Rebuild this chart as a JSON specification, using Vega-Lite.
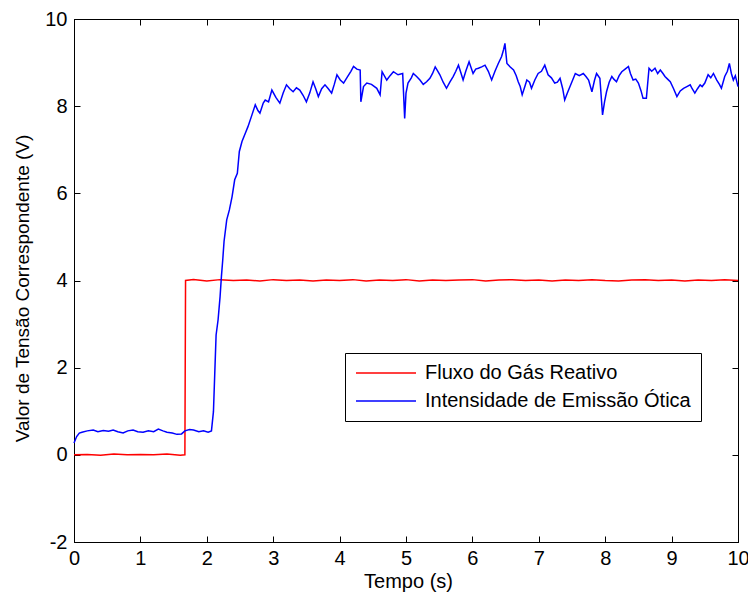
{
  "$schema": "https://vega.github.io/schema/vega-lite/v6.json",
  "width": 664,
  "height": 523,
  "autosize": {"type": "none"},
  "padding": {"left": 74, "top": 19, "right": 10, "bottom": 57},
  "background": "white",
  "config": {
    "font": "Liberation Sans",
    "view": {"stroke": "black", "strokeWidth": 1},
    "axis": {
      "grid": false,
      "domainColor": "black",
      "domainWidth": 1,
      "tickColor": "black",
      "tickWidth": 1,
      "tickSize": -6,
      "labelColor": "black",
      "labelFont": "Liberation Sans",
      "labelFontSize": 20,
      "titleColor": "black",
      "titleFont": "Liberation Sans",
      "titleFontWeight": "normal",
      "labelFlush": false,
      "labelOverlap": false
    }
  },
  "data": {
    "values": [
      {"s": "R", "t": 0.0, "v": 0.0},
      {"s": "R", "t": 0.2, "v": 0.01},
      {"s": "R", "t": 0.4, "v": -0.01},
      {"s": "R", "t": 0.6, "v": 0.02},
      {"s": "R", "t": 0.8, "v": 0.0},
      {"s": "R", "t": 1.0, "v": 0.01},
      {"s": "R", "t": 1.2, "v": 0.0},
      {"s": "R", "t": 1.4, "v": 0.02},
      {"s": "R", "t": 1.6, "v": -0.01},
      {"s": "R", "t": 1.67, "v": 0.0},
      {"s": "R", "t": 1.68, "v": 4.0},
      {"s": "R", "t": 1.8, "v": 4.02},
      {"s": "R", "t": 2.0, "v": 3.99},
      {"s": "R", "t": 2.2, "v": 4.02},
      {"s": "R", "t": 2.4, "v": 4.0},
      {"s": "R", "t": 2.6, "v": 4.01},
      {"s": "R", "t": 2.8, "v": 3.99},
      {"s": "R", "t": 3.0, "v": 4.02},
      {"s": "R", "t": 3.2, "v": 4.0},
      {"s": "R", "t": 3.4, "v": 4.01},
      {"s": "R", "t": 3.6, "v": 3.99},
      {"s": "R", "t": 3.8, "v": 4.01},
      {"s": "R", "t": 4.0, "v": 4.0},
      {"s": "R", "t": 4.2, "v": 4.02},
      {"s": "R", "t": 4.4, "v": 3.99},
      {"s": "R", "t": 4.6, "v": 4.01},
      {"s": "R", "t": 4.8, "v": 4.0},
      {"s": "R", "t": 5.0, "v": 4.02},
      {"s": "R", "t": 5.2, "v": 3.99},
      {"s": "R", "t": 5.4, "v": 4.01},
      {"s": "R", "t": 5.6, "v": 4.0},
      {"s": "R", "t": 5.8, "v": 4.01},
      {"s": "R", "t": 6.0, "v": 4.02},
      {"s": "R", "t": 6.2, "v": 3.99},
      {"s": "R", "t": 6.4, "v": 4.01},
      {"s": "R", "t": 6.6, "v": 4.02},
      {"s": "R", "t": 6.8, "v": 4.0},
      {"s": "R", "t": 7.0, "v": 4.01},
      {"s": "R", "t": 7.2, "v": 3.99},
      {"s": "R", "t": 7.4, "v": 4.01},
      {"s": "R", "t": 7.6, "v": 4.0},
      {"s": "R", "t": 7.8, "v": 4.02},
      {"s": "R", "t": 8.0, "v": 4.0},
      {"s": "R", "t": 8.2, "v": 3.99},
      {"s": "R", "t": 8.4, "v": 4.01},
      {"s": "R", "t": 8.6, "v": 4.02},
      {"s": "R", "t": 8.8, "v": 4.0},
      {"s": "R", "t": 9.0, "v": 4.01},
      {"s": "R", "t": 9.2, "v": 3.99},
      {"s": "R", "t": 9.4, "v": 4.01},
      {"s": "R", "t": 9.6, "v": 4.0},
      {"s": "R", "t": 9.8, "v": 4.02},
      {"s": "R", "t": 10.0, "v": 4.0},
      {"s": "B", "t": 0.0, "v": 0.27},
      {"s": "B", "t": 0.04, "v": 0.42},
      {"s": "B", "t": 0.08, "v": 0.5},
      {"s": "B", "t": 0.12, "v": 0.52},
      {"s": "B", "t": 0.2, "v": 0.55},
      {"s": "B", "t": 0.29, "v": 0.57},
      {"s": "B", "t": 0.36, "v": 0.53},
      {"s": "B", "t": 0.44, "v": 0.56},
      {"s": "B", "t": 0.52, "v": 0.54},
      {"s": "B", "t": 0.59, "v": 0.57},
      {"s": "B", "t": 0.66, "v": 0.53},
      {"s": "B", "t": 0.74, "v": 0.5},
      {"s": "B", "t": 0.81, "v": 0.55},
      {"s": "B", "t": 0.89, "v": 0.57},
      {"s": "B", "t": 0.96, "v": 0.53},
      {"s": "B", "t": 1.04, "v": 0.52},
      {"s": "B", "t": 1.12, "v": 0.55},
      {"s": "B", "t": 1.2, "v": 0.53},
      {"s": "B", "t": 1.27, "v": 0.59},
      {"s": "B", "t": 1.34, "v": 0.55},
      {"s": "B", "t": 1.4, "v": 0.52},
      {"s": "B", "t": 1.48, "v": 0.5},
      {"s": "B", "t": 1.55, "v": 0.47},
      {"s": "B", "t": 1.62, "v": 0.48},
      {"s": "B", "t": 1.67, "v": 0.55},
      {"s": "B", "t": 1.74, "v": 0.58},
      {"s": "B", "t": 1.8, "v": 0.57},
      {"s": "B", "t": 1.88, "v": 0.53},
      {"s": "B", "t": 1.95, "v": 0.55},
      {"s": "B", "t": 2.02, "v": 0.52},
      {"s": "B", "t": 2.07, "v": 0.55},
      {"s": "B", "t": 2.1, "v": 0.99},
      {"s": "B", "t": 2.12, "v": 1.87},
      {"s": "B", "t": 2.14, "v": 2.75},
      {"s": "B", "t": 2.17, "v": 3.1},
      {"s": "B", "t": 2.2, "v": 3.63},
      {"s": "B", "t": 2.22, "v": 4.09},
      {"s": "B", "t": 2.24, "v": 4.47},
      {"s": "B", "t": 2.26, "v": 4.9},
      {"s": "B", "t": 2.3, "v": 5.39},
      {"s": "B", "t": 2.34, "v": 5.62},
      {"s": "B", "t": 2.38, "v": 5.92},
      {"s": "B", "t": 2.42, "v": 6.31},
      {"s": "B", "t": 2.46, "v": 6.46},
      {"s": "B", "t": 2.49, "v": 6.96},
      {"s": "B", "t": 2.53, "v": 7.19},
      {"s": "B", "t": 2.58, "v": 7.38},
      {"s": "B", "t": 2.62, "v": 7.53},
      {"s": "B", "t": 2.68, "v": 7.8},
      {"s": "B", "t": 2.73, "v": 8.03},
      {"s": "B", "t": 2.77, "v": 7.9},
      {"s": "B", "t": 2.8, "v": 7.84},
      {"s": "B", "t": 2.85, "v": 8.07},
      {"s": "B", "t": 2.88, "v": 8.14},
      {"s": "B", "t": 2.93, "v": 8.1},
      {"s": "B", "t": 2.98, "v": 8.37},
      {"s": "B", "t": 3.04, "v": 8.2},
      {"s": "B", "t": 3.1, "v": 8.07},
      {"s": "B", "t": 3.15, "v": 8.3},
      {"s": "B", "t": 3.2, "v": 8.49},
      {"s": "B", "t": 3.25, "v": 8.4},
      {"s": "B", "t": 3.3, "v": 8.33},
      {"s": "B", "t": 3.35, "v": 8.42},
      {"s": "B", "t": 3.4, "v": 8.37},
      {"s": "B", "t": 3.45, "v": 8.25},
      {"s": "B", "t": 3.5, "v": 8.1},
      {"s": "B", "t": 3.55, "v": 8.3},
      {"s": "B", "t": 3.6, "v": 8.56},
      {"s": "B", "t": 3.64, "v": 8.4},
      {"s": "B", "t": 3.68, "v": 8.22},
      {"s": "B", "t": 3.73, "v": 8.4},
      {"s": "B", "t": 3.78, "v": 8.49},
      {"s": "B", "t": 3.83, "v": 8.4},
      {"s": "B", "t": 3.88, "v": 8.3},
      {"s": "B", "t": 3.92, "v": 8.5},
      {"s": "B", "t": 3.96, "v": 8.72},
      {"s": "B", "t": 4.01, "v": 8.6},
      {"s": "B", "t": 4.06, "v": 8.53},
      {"s": "B", "t": 4.12, "v": 8.68},
      {"s": "B", "t": 4.17, "v": 8.8},
      {"s": "B", "t": 4.21, "v": 8.91},
      {"s": "B", "t": 4.26, "v": 8.85},
      {"s": "B", "t": 4.31, "v": 8.83},
      {"s": "B", "t": 4.32, "v": 8.1},
      {"s": "B", "t": 4.36, "v": 8.45},
      {"s": "B", "t": 4.41, "v": 8.53},
      {"s": "B", "t": 4.48, "v": 8.5},
      {"s": "B", "t": 4.56, "v": 8.41},
      {"s": "B", "t": 4.61, "v": 8.26},
      {"s": "B", "t": 4.64, "v": 8.79},
      {"s": "B", "t": 4.71, "v": 8.6},
      {"s": "B", "t": 4.76, "v": 8.7},
      {"s": "B", "t": 4.81, "v": 8.79},
      {"s": "B", "t": 4.88, "v": 8.72},
      {"s": "B", "t": 4.95, "v": 8.75},
      {"s": "B", "t": 4.98, "v": 7.72},
      {"s": "B", "t": 5.0, "v": 8.3},
      {"s": "B", "t": 5.03, "v": 8.53},
      {"s": "B", "t": 5.08, "v": 8.65},
      {"s": "B", "t": 5.11, "v": 8.75},
      {"s": "B", "t": 5.16, "v": 8.68},
      {"s": "B", "t": 5.21, "v": 8.6},
      {"s": "B", "t": 5.26, "v": 8.5},
      {"s": "B", "t": 5.31, "v": 8.56},
      {"s": "B", "t": 5.36, "v": 8.64},
      {"s": "B", "t": 5.4, "v": 8.75},
      {"s": "B", "t": 5.44, "v": 8.9},
      {"s": "B", "t": 5.48, "v": 8.8},
      {"s": "B", "t": 5.51, "v": 8.72},
      {"s": "B", "t": 5.56, "v": 8.55},
      {"s": "B", "t": 5.61, "v": 8.41},
      {"s": "B", "t": 5.66, "v": 8.55},
      {"s": "B", "t": 5.71, "v": 8.68},
      {"s": "B", "t": 5.75, "v": 8.8},
      {"s": "B", "t": 5.79, "v": 8.94},
      {"s": "B", "t": 5.83, "v": 8.75},
      {"s": "B", "t": 5.86, "v": 8.6},
      {"s": "B", "t": 5.9, "v": 8.8},
      {"s": "B", "t": 5.95, "v": 9.02},
      {"s": "B", "t": 6.01, "v": 8.75},
      {"s": "B", "t": 6.05, "v": 8.85},
      {"s": "B", "t": 6.09, "v": 8.87},
      {"s": "B", "t": 6.14, "v": 8.9},
      {"s": "B", "t": 6.19, "v": 8.94},
      {"s": "B", "t": 6.24, "v": 8.8},
      {"s": "B", "t": 6.29, "v": 8.6},
      {"s": "B", "t": 6.34, "v": 8.8},
      {"s": "B", "t": 6.39, "v": 8.98},
      {"s": "B", "t": 6.44, "v": 9.14},
      {"s": "B", "t": 6.47, "v": 9.3},
      {"s": "B", "t": 6.49, "v": 9.44},
      {"s": "B", "t": 6.52, "v": 8.98},
      {"s": "B", "t": 6.57, "v": 8.9},
      {"s": "B", "t": 6.62, "v": 8.83},
      {"s": "B", "t": 6.66, "v": 8.7},
      {"s": "B", "t": 6.69, "v": 8.56},
      {"s": "B", "t": 6.72, "v": 8.45},
      {"s": "B", "t": 6.75, "v": 8.26},
      {"s": "B", "t": 6.79, "v": 8.45},
      {"s": "B", "t": 6.82, "v": 8.6},
      {"s": "B", "t": 6.86, "v": 8.55},
      {"s": "B", "t": 6.89, "v": 8.41},
      {"s": "B", "t": 6.94, "v": 8.6},
      {"s": "B", "t": 6.99, "v": 8.75},
      {"s": "B", "t": 7.04, "v": 8.8},
      {"s": "B", "t": 7.09, "v": 8.94},
      {"s": "B", "t": 7.14, "v": 8.72},
      {"s": "B", "t": 7.19, "v": 8.65},
      {"s": "B", "t": 7.24, "v": 8.53},
      {"s": "B", "t": 7.28, "v": 8.55},
      {"s": "B", "t": 7.32, "v": 8.64},
      {"s": "B", "t": 7.36, "v": 8.4},
      {"s": "B", "t": 7.39, "v": 8.14},
      {"s": "B", "t": 7.43, "v": 8.3},
      {"s": "B", "t": 7.47, "v": 8.45},
      {"s": "B", "t": 7.51, "v": 8.6},
      {"s": "B", "t": 7.55, "v": 8.75},
      {"s": "B", "t": 7.61, "v": 8.7},
      {"s": "B", "t": 7.67, "v": 8.75},
      {"s": "B", "t": 7.71, "v": 8.68},
      {"s": "B", "t": 7.75, "v": 8.6},
      {"s": "B", "t": 7.8, "v": 8.33},
      {"s": "B", "t": 7.84, "v": 8.6},
      {"s": "B", "t": 7.87, "v": 8.75},
      {"s": "B", "t": 7.92, "v": 8.64},
      {"s": "B", "t": 7.96, "v": 7.8},
      {"s": "B", "t": 7.99, "v": 8.1},
      {"s": "B", "t": 8.02, "v": 8.33},
      {"s": "B", "t": 8.06, "v": 8.55},
      {"s": "B", "t": 8.1, "v": 8.68},
      {"s": "B", "t": 8.13, "v": 8.62},
      {"s": "B", "t": 8.17, "v": 8.56},
      {"s": "B", "t": 8.21, "v": 8.7},
      {"s": "B", "t": 8.25, "v": 8.79},
      {"s": "B", "t": 8.3, "v": 8.85},
      {"s": "B", "t": 8.35, "v": 8.91},
      {"s": "B", "t": 8.38, "v": 8.75},
      {"s": "B", "t": 8.42, "v": 8.6},
      {"s": "B", "t": 8.46, "v": 8.62},
      {"s": "B", "t": 8.5, "v": 8.53},
      {"s": "B", "t": 8.54, "v": 8.35},
      {"s": "B", "t": 8.57, "v": 8.18},
      {"s": "B", "t": 8.62, "v": 8.18},
      {"s": "B", "t": 8.66, "v": 8.87},
      {"s": "B", "t": 8.7, "v": 8.8},
      {"s": "B", "t": 8.75, "v": 8.87},
      {"s": "B", "t": 8.79, "v": 8.75},
      {"s": "B", "t": 8.83, "v": 8.83},
      {"s": "B", "t": 8.87, "v": 8.75},
      {"s": "B", "t": 8.9, "v": 8.68},
      {"s": "B", "t": 8.94, "v": 8.62},
      {"s": "B", "t": 8.98, "v": 8.56},
      {"s": "B", "t": 9.03, "v": 8.4},
      {"s": "B", "t": 9.08, "v": 8.22},
      {"s": "B", "t": 9.13, "v": 8.35},
      {"s": "B", "t": 9.18, "v": 8.41},
      {"s": "B", "t": 9.23, "v": 8.45},
      {"s": "B", "t": 9.28, "v": 8.49},
      {"s": "B", "t": 9.31, "v": 8.4},
      {"s": "B", "t": 9.35, "v": 8.3},
      {"s": "B", "t": 9.39, "v": 8.4},
      {"s": "B", "t": 9.43, "v": 8.49},
      {"s": "B", "t": 9.46, "v": 8.45},
      {"s": "B", "t": 9.5, "v": 8.53},
      {"s": "B", "t": 9.55, "v": 8.72},
      {"s": "B", "t": 9.59, "v": 8.65},
      {"s": "B", "t": 9.63, "v": 8.75},
      {"s": "B", "t": 9.68, "v": 8.6},
      {"s": "B", "t": 9.72, "v": 8.5},
      {"s": "B", "t": 9.75, "v": 8.41},
      {"s": "B", "t": 9.8, "v": 8.68},
      {"s": "B", "t": 9.84, "v": 8.8},
      {"s": "B", "t": 9.87, "v": 8.98},
      {"s": "B", "t": 9.9, "v": 8.75},
      {"s": "B", "t": 9.93, "v": 8.6},
      {"s": "B", "t": 9.96, "v": 8.7},
      {"s": "B", "t": 10.0, "v": 8.45}
    ]
  },
  "layer": [
    {
      "mark": {"type": "line", "strokeWidth": 1.5},
      "encoding": {
        "x": {
          "field": "t",
          "type": "quantitative",
          "scale": {"domain": [0, 10], "nice": false, "zero": false},
          "axis": {
            "orient": "bottom",
            "values": [0, 1, 2, 3, 4, 5, 6, 7, 8, 9, 10],
            "labelExpr": "'' + datum.value",
            "labelPadding": 12,
            "title": "Tempo (s)",
            "titleFontSize": 20,
            "titleX": 334,
            "titleY": 45,
            "titleBaseline": "alphabetic",
            "titleAlign": "center"
          }
        },
        "y": {
          "field": "v",
          "type": "quantitative",
          "scale": {"domain": [-2, 10], "nice": false, "zero": false},
          "axis": {
            "orient": "left",
            "values": [-2, 0, 2, 4, 6, 8, 10],
            "labelExpr": "'' + datum.value",
            "labelPadding": 13,
            "title": "Valor de Tensão Correspondente (V)",
            "titleFontSize": 19,
            "titleAngle": -90,
            "titleX": -46,
            "titleY": 269,
            "titleBaseline": "alphabetic",
            "titleAlign": "center"
          }
        },
        "color": {
          "field": "s",
          "type": "nominal",
          "scale": {"domain": ["R", "B"], "range": ["#ff0000", "#0000ff"]},
          "legend": {
            "orient": "none",
            "legendX": 271,
            "legendY": 334,
            "title": null,
            "labelExpr": "datum.value == 'R' ? 'Fluxo do Gás Reativo' : 'Intensidade de Emissão Ótica'",
            "padding": 10,
            "strokeColor": "black",
            "fillColor": "white",
            "cornerRadius": 0,
            "symbolType": "stroke",
            "symbolSize": 3600,
            "symbolStrokeWidth": 1.4,
            "labelFontSize": 20,
            "labelFont": "Liberation Sans",
            "labelColor": "black",
            "labelOffset": 8,
            "clipHeight": 20,
            "rowPadding": 8,
            "labelLimit": 400
          }
        }
      }
    },
    {
      "mark": {"type": "line", "opacity": 0},
      "encoding": {
        "x": {
          "field": "t",
          "type": "quantitative",
          "axis": {"orient": "top", "values": [0, 1, 2, 3, 4, 5, 6, 7, 8, 9, 10], "labels": false, "title": null}
        },
        "y": {
          "field": "v",
          "type": "quantitative",
          "axis": {"orient": "right", "values": [-2, 0, 2, 4, 6, 8, 10], "labels": false, "title": null}
        }
      }
    }
  ],
  "resolve": {"axis": {"x": "independent", "y": "independent"}}
}
